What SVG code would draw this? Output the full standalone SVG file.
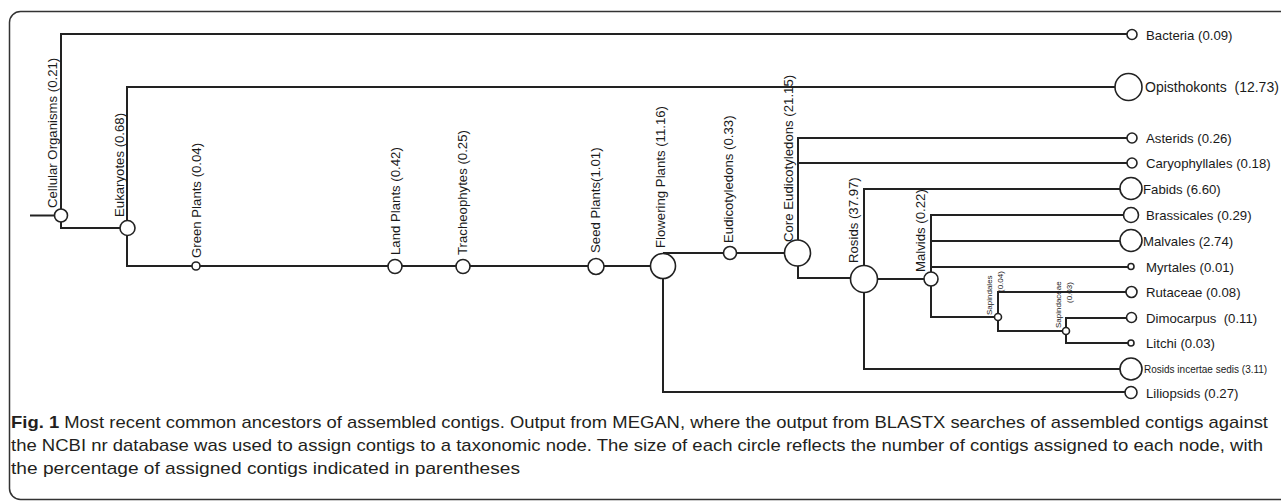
<svg xmlns="http://www.w3.org/2000/svg" width="1281" height="502" viewBox="0 0 1281 502">
<style>
.ln{fill:none;stroke:#222;stroke-width:2}
.nd{fill:#fff;stroke:#222;stroke-width:1.6}
.lb{font-family:"Liberation Sans",Arial,sans-serif;font-size:13.2px;fill:#1a1a1a}
.sm{font-family:"Liberation Sans",Arial,sans-serif;font-size:8px;fill:#1a1a1a}
.cap{font-family:"Liberation Sans",Arial,sans-serif;font-size:17px;fill:#231f20}
</style>
<rect x="9.5" y="11.5" width="1300" height="488" rx="11" fill="#fff" stroke="#333" stroke-width="1.5"/>
<g id="connectors">
<path class="ln" d="M30,215.5 H55"/>
<path class="ln" d="M1127,34 H61 V228 H120"/>
<path class="ln" d="M1115,87 H127 V266 H651"/>
<path class="ln" d="M1125,392 H663 V266"/>
<path class="ln" d="M663,253 H785"/>
<path class="ln" d="M1127,138 H798 V278 H851"/>
<path class="ln" d="M798,163 H1127"/>
<path class="ln" d="M1120,189 H864 V369 H1120"/>
<path class="ln" d="M864,279 H924"/>
<path class="ln" d="M1123.5,215 H931 V317 H994.5"/>
<path class="ln" d="M931,241 H1120"/>
<path class="ln" d="M931,267 H1128"/>
<path class="ln" d="M1126,292 H998 V331 H1062.5"/>
<path class="ln" d="M1126.5,318 H1066 V343 H1128"/>
</g>
<g id="n-cellular"><circle class="nd" cx="61" cy="215.5" r="6.5"/><text class="lb" transform="translate(57,208) rotate(-90)">Cellular Organisms (0.21)</text></g>
<g id="n-eukaryotes"><circle class="nd" cx="127.5" cy="228" r="7.5"/><text class="lb" transform="translate(123.5,217) rotate(-90)">Eukaryotes (0.68)</text></g>
<g id="n-green"><circle class="nd" cx="196" cy="266" r="4"/><text class="lb" transform="translate(200.5,258) rotate(-90)">Green Plants (0.04)</text></g>
<g id="n-land"><circle class="nd" cx="395" cy="266.5" r="7"/><text class="lb" transform="translate(399.5,255) rotate(-90)">Land Plants (0.42)</text></g>
<g id="n-trach"><circle class="nd" cx="463" cy="266.5" r="7"/><text class="lb" transform="translate(467,255) rotate(-90)">Tracheophytes (0.25)</text></g>
<g id="n-seed"><circle class="nd" cx="596" cy="266.5" r="8"/><text class="lb" transform="translate(600,253) rotate(-90)">Seed Plants(1.01)</text></g>
<g id="n-flowering"><circle class="nd" cx="663" cy="266" r="12.5"/><text class="lb" transform="translate(664.5,248) rotate(-90)">Flowering Plants (11.16)</text></g>
<g id="n-eudicot"><circle class="nd" cx="730" cy="253" r="6.5"/><text class="lb" transform="translate(733,243) rotate(-90)">Eudicotyledons (0.33)</text></g>
<g id="n-core"><circle class="nd" cx="797.5" cy="253" r="13"/><text class="lb" transform="translate(793,242) rotate(-90)">Core Eudicotyledons (21.15)</text></g>
<g id="n-rosids"><circle class="nd" cx="864" cy="279" r="13.5"/><text class="lb" transform="translate(858,263) rotate(-90)">Rosids (37.97)</text></g>
<g id="n-malvids"><circle class="nd" cx="931" cy="279" r="7"/><text class="lb" transform="translate(925,272) rotate(-90)">Malvids (0.22)</text></g>
<g id="n-sapindales"><circle class="nd" cx="998" cy="317" r="3.5"/><text class="sm" transform="translate(992,315) rotate(-90)">Sapindales</text><text class="sm" transform="translate(1002.5,292) rotate(-90)">(0.04)</text></g>
<g id="n-sapindaceae"><circle class="nd" cx="1066" cy="331" r="3.5"/><text class="sm" transform="translate(1061,328) rotate(-90)">Sapindaceae</text><text class="sm" transform="translate(1072,303) rotate(-90)">(0.03)</text></g>
<g id="n-bacteria"><circle class="nd" cx="1132" cy="34.5" r="5"/><text class="lb" x="1146" y="39.5">Bacteria (0.09)</text></g>
<g id="n-opisthokonts"><circle class="nd" cx="1128.5" cy="87" r="13.5"/><text class="lb" x="1145" y="92" style="font-size:14px" xml:space="preserve">Opisthokonts  (12.73)</text></g>
<g id="n-asterids"><circle class="nd" cx="1132" cy="138" r="5"/><text class="lb" x="1146" y="143">Asterids (0.26)</text></g>
<g id="n-caryophyllales"><circle class="nd" cx="1132" cy="163" r="5"/><text class="lb" x="1146" y="168">Caryophyllales (0.18)</text></g>
<g id="n-fabids"><circle class="nd" cx="1131" cy="188.5" r="11"/><text class="lb" x="1143" y="193.5">Fabids (6.60)</text></g>
<g id="n-brassicales"><circle class="nd" cx="1131" cy="215" r="7.5"/><text class="lb" x="1146" y="220">Brassicales (0.29)</text></g>
<g id="n-malvales"><circle class="nd" cx="1131" cy="240.5" r="11"/><text class="lb" x="1143" y="245.5">Malvales (2.74)</text></g>
<g id="n-myrtales"><circle class="nd" cx="1131" cy="266.5" r="3"/><text class="lb" x="1146" y="271.5">Myrtales (0.01)</text></g>
<g id="n-rutaceae"><circle class="nd" cx="1131.5" cy="292" r="5.5"/><text class="lb" x="1146" y="297">Rutaceae (0.08)</text></g>
<g id="n-dimocarpus"><circle class="nd" cx="1131.5" cy="317.5" r="5"/><text class="lb" x="1146" y="322.5" xml:space="preserve">Dimocarpus  (0.11)</text></g>
<g id="n-litchi"><circle class="nd" cx="1131" cy="343" r="3"/><text class="lb" x="1146" y="348">Litchi (0.03)</text></g>
<g id="n-incertae"><circle class="nd" cx="1131" cy="369" r="11"/><text class="lb" x="1144" y="372.5" style="font-size:10px">Rosids incertae sedis (3.11)</text></g>
<g id="n-liliopsids"><circle class="nd" cx="1131" cy="392.5" r="6"/><text class="lb" x="1146" y="397.5">Liliopsids (0.27)</text></g>
<g id="caption">
<text class="cap" x="11" y="428" textLength="1257" lengthAdjust="spacingAndGlyphs"><tspan font-weight="bold">Fig. 1</tspan> Most recent common ancestors of assembled contigs. Output from MEGAN, where the output from BLASTX searches of assembled contigs against</text>
<text class="cap" x="11" y="451" textLength="1252" lengthAdjust="spacingAndGlyphs">the NCBI nr database was used to assign contigs to a taxonomic node. The size of each circle reflects the number of contigs assigned to each node, with</text>
<text class="cap" x="11" y="474" textLength="509" lengthAdjust="spacingAndGlyphs">the percentage of assigned contigs indicated in parentheses</text>
</g>
</svg>
